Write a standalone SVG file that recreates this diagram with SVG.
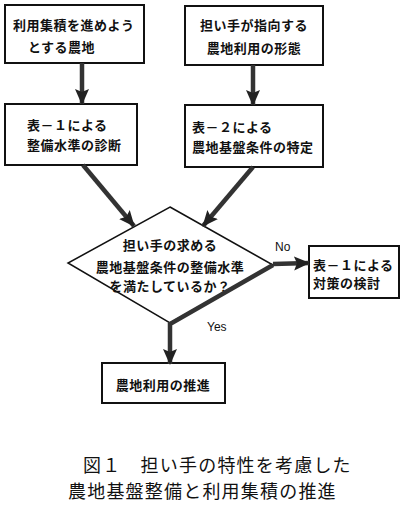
<svg xmlns="http://www.w3.org/2000/svg" width="419" height="507" viewBox="0 0 419 507">
<style>
.box{fill:#fff;stroke:#111;stroke-width:2}
.t{font-family:"Noto Sans CJK JP","Noto Sans",sans-serif;font-size:13px;font-weight:bold;fill:#111;letter-spacing:0.5px}
.lbl{font-family:"Liberation Sans",sans-serif;font-size:12px;fill:#111}
.cap{font-family:"Noto Sans CJK JP","Noto Sans",sans-serif;font-size:18px;fill:#111;letter-spacing:1.2px}
.conn{fill:none;stroke:#333;stroke-width:4.5;stroke-linejoin:miter}
</style>
<defs>
<marker id="ah" markerUnits="userSpaceOnUse" markerWidth="16" markerHeight="16" viewBox="0 0 16 16" refX="15" refY="8" orient="auto">
<path d="M0,1 L16,8 L0,15 L3,8 Z" fill="#222"/>
</marker>
</defs>
<rect width="419" height="507" fill="#fff"/>
<g id="n1"><rect class="box" x="5" y="5" width="139" height="58"/>
<text class="t" x="13" y="30">利用集積を進めよう</text>
<text class="t" x="28" y="52">とする農地</text></g>
<g id="n2"><rect class="box" x="185" y="6" width="138" height="59"/>
<text class="t" x="254" y="30" text-anchor="middle">担い手が指向する</text>
<text class="t" x="254" y="53" text-anchor="middle">農地利用の形態</text></g>
<g id="n3"><rect class="box" x="5" y="104" width="132" height="61"/>
<text class="t" x="27" y="130">表－１による</text>
<text class="t" x="27" y="150">整備水準の診断</text></g>
<g id="n4"><rect class="box" x="185" y="105" width="138" height="62"/>
<text class="t" x="192" y="132">表－２による</text>
<text class="t" x="192" y="152">農地基盤条件の特定</text></g>
<g id="n5"><path class="box" d="M170,207 L273,265 L170,323 L68,263 Z" style="stroke-width:1.5"/>
<text class="t" x="170" y="250" text-anchor="middle">担い手の求める</text>
<text class="t" x="170" y="272" text-anchor="middle">農地基盤条件の整備水準</text>
<text class="t" x="170" y="291" text-anchor="middle">を満たしているか？</text></g>
<g id="n6"><rect class="box" x="309" y="246" width="90" height="52"/>
<text class="t" x="313" y="270">表－１による</text>
<text class="t" x="313" y="288">対策の検討</text></g>
<g id="n7"><rect class="box" x="102" y="363" width="123" height="40"/>
<text class="t" x="163" y="390" text-anchor="middle">農地利用の推進</text></g>
<g id="connectors">
<line class="conn" x1="82" y1="63" x2="82" y2="104" marker-end="url(#ah)"/>
<line class="conn" x1="253" y1="65" x2="253" y2="105" marker-end="url(#ah)"/>
<line class="conn" x1="83" y1="165" x2="134" y2="226" marker-end="url(#ah)"/>
<line class="conn" x1="253" y1="167" x2="203" y2="226" marker-end="url(#ah)"/>
<line class="conn" x1="273" y1="264" x2="309" y2="263" marker-end="url(#ah)"/>
<polyline class="conn" points="273,265 170,324 170,364" marker-end="url(#ah)"/>
<text class="lbl" x="275" y="251">No</text>
<text class="lbl" x="207" y="331">Yes</text>
</g>
<g id="caption">
<text class="cap" x="83" y="472">図１　担い手の特性を考慮した</text>
<text class="cap" x="68" y="498">農地基盤整備と利用集積の推進</text>
</g>
</svg>
